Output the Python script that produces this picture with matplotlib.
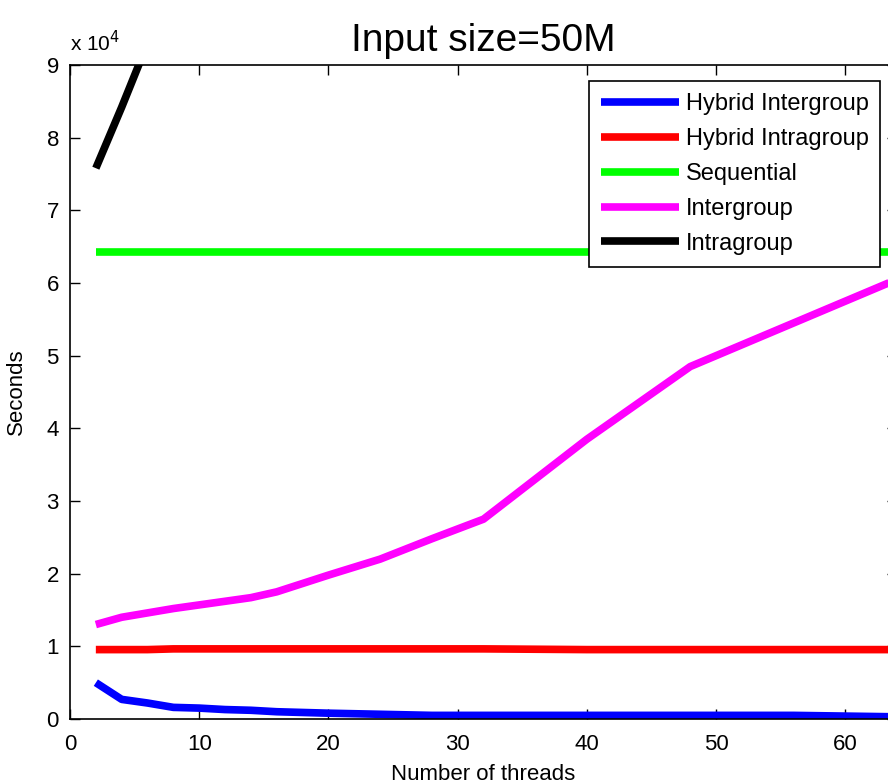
import numpy as np
from matplotlib import pyplot as plt
from matplotlib.ticker import FuncFormatter

plt.rcParams['font.family'] = ['Liberation Sans', 'DejaVu Sans']

threads = [2, 4, 6, 8, 10, 12, 14, 16, 20, 24, 28, 32, 40, 48, 56, 64]
hybrid_inter = [5000, 2700, 2200, 1600, 1500, 1300, 1200, 1000, 800, 650, 500, 500, 500, 500, 500, 300]
hybrid_intra = [9550, 9550, 9550, 9650, 9650, 9650, 9650, 9650, 9650, 9650, 9650, 9650, 9550, 9550, 9550, 9550]
sequential = [64300] * len(threads)
intergroup = [13000, 14000, 14600, 15200, 15700, 16200, 16700, 17500, 19800, 22000, 24800, 27500, 38500, 48500, 54500, 60500]
intra_threads = [2, 4, 6, 8]
intragroup = [75800, 84200, 93000, 102000]

series = [
    ("Hybrid Intergroup", threads, hybrid_inter, "#0000ff"),
    ("Hybrid Intragroup", threads, hybrid_intra, "#ff0000"),
    ("Sequential", threads, sequential, "#00ff00"),
    ("Intergroup", threads, intergroup, "#ff00ff"),
    ("Intragroup", intra_threads, intragroup, "#000000"),
]

fig = plt.figure(figsize=(8.88, 7.84), dpi=100)
ax = fig.add_axes([70 / 888, 65 / 784, 827 / 888, 654 / 784])

for name, xs, ys, color in series:
    ax.plot(xs, ys, color=color, linewidth=5.5, label=name, solid_capstyle='butt')

ax.set_xlim(0, 64)
ax.set_ylim(0, 90000)
ax.set_xticks(range(0, 61, 10))
ax.set_yticks(np.arange(0, 90001, 10000))
ax.yaxis.set_major_formatter(FuncFormatter(lambda v, p: f"{v / 1e4:g}"))
ax.tick_params(direction='in', top=True, right=True, labelsize=16, length=7, width=1)
ax.tick_params(axis='x', pad=11)
ax.tick_params(axis='y', pad=8)
for s in ax.spines.values():
    s.set_linewidth(1.2)

ax.text(0.0, 1.015, r"x 10$^4$", transform=ax.transAxes, fontsize=15, ha='left', va='bottom')
ax.set_title("Input size=50M", fontsize=28, pad=10)
ax.set_xlabel("Number of threads", fontsize=16, labelpad=6)
ax.set_ylabel("Seconds", fontsize=16, labelpad=14)

leg = ax.legend(loc='upper left', bbox_to_anchor=(589 / 888, 1 - 81 / 784), bbox_transform=fig.transFigure,
                fontsize=17, frameon=True, fancybox=False, framealpha=1, handlelength=3.3, handletextpad=0.3,
                labelspacing=0.55, borderpad=0.5, borderaxespad=0)
leg.get_frame().set_edgecolor('black')
leg.get_frame().set_linewidth(1.2)

fig.savefig("out.png", dpi=100)
